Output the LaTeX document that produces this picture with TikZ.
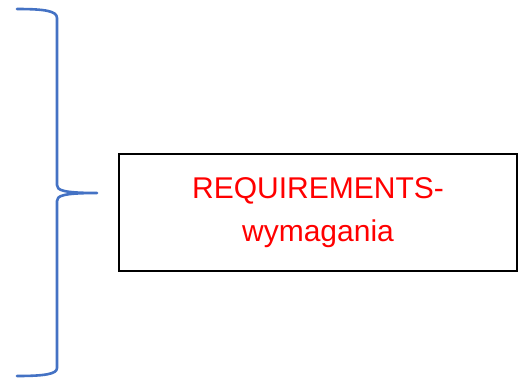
\documentclass[tikz,border=0pt]{standalone}
\usepackage{fontspec}
\setmainfont{Liberation Sans}
\definecolor{braceblue}{RGB}{68,114,196}
\definecolor{txtred}{RGB}{255,0,0}
\begin{document}
\begin{tikzpicture}[x=1pt,y=-1pt,
  bracestyle/.style={draw=braceblue,line width=2.6pt,line cap=round,line join=round},
  boxstyle/.style={draw=black,line width=1.5pt,minimum width=398pt,minimum height=117pt,inner sep=0pt,
    text=txtred,font=\fontsize{30}{43}\selectfont,align=center}]
\useasboundingbox (0,0) rectangle (521,378);
\node[boxstyle] (req) at (318,212.5) {REQUIREMENTS-\\wymagania};
\coordinate (tip) at (97,193);
\draw[bracestyle] (17,9) .. controls (45,9) and (57,11) .. (57,18) -- (57,185)
  .. controls (57,190) and (62,193) .. (tip)
  .. controls (62,193) and (57,196) .. (57,201) -- (57,368)
  .. controls (57,374) and (45,376) .. (17,376);
\end{tikzpicture}
\end{document}
